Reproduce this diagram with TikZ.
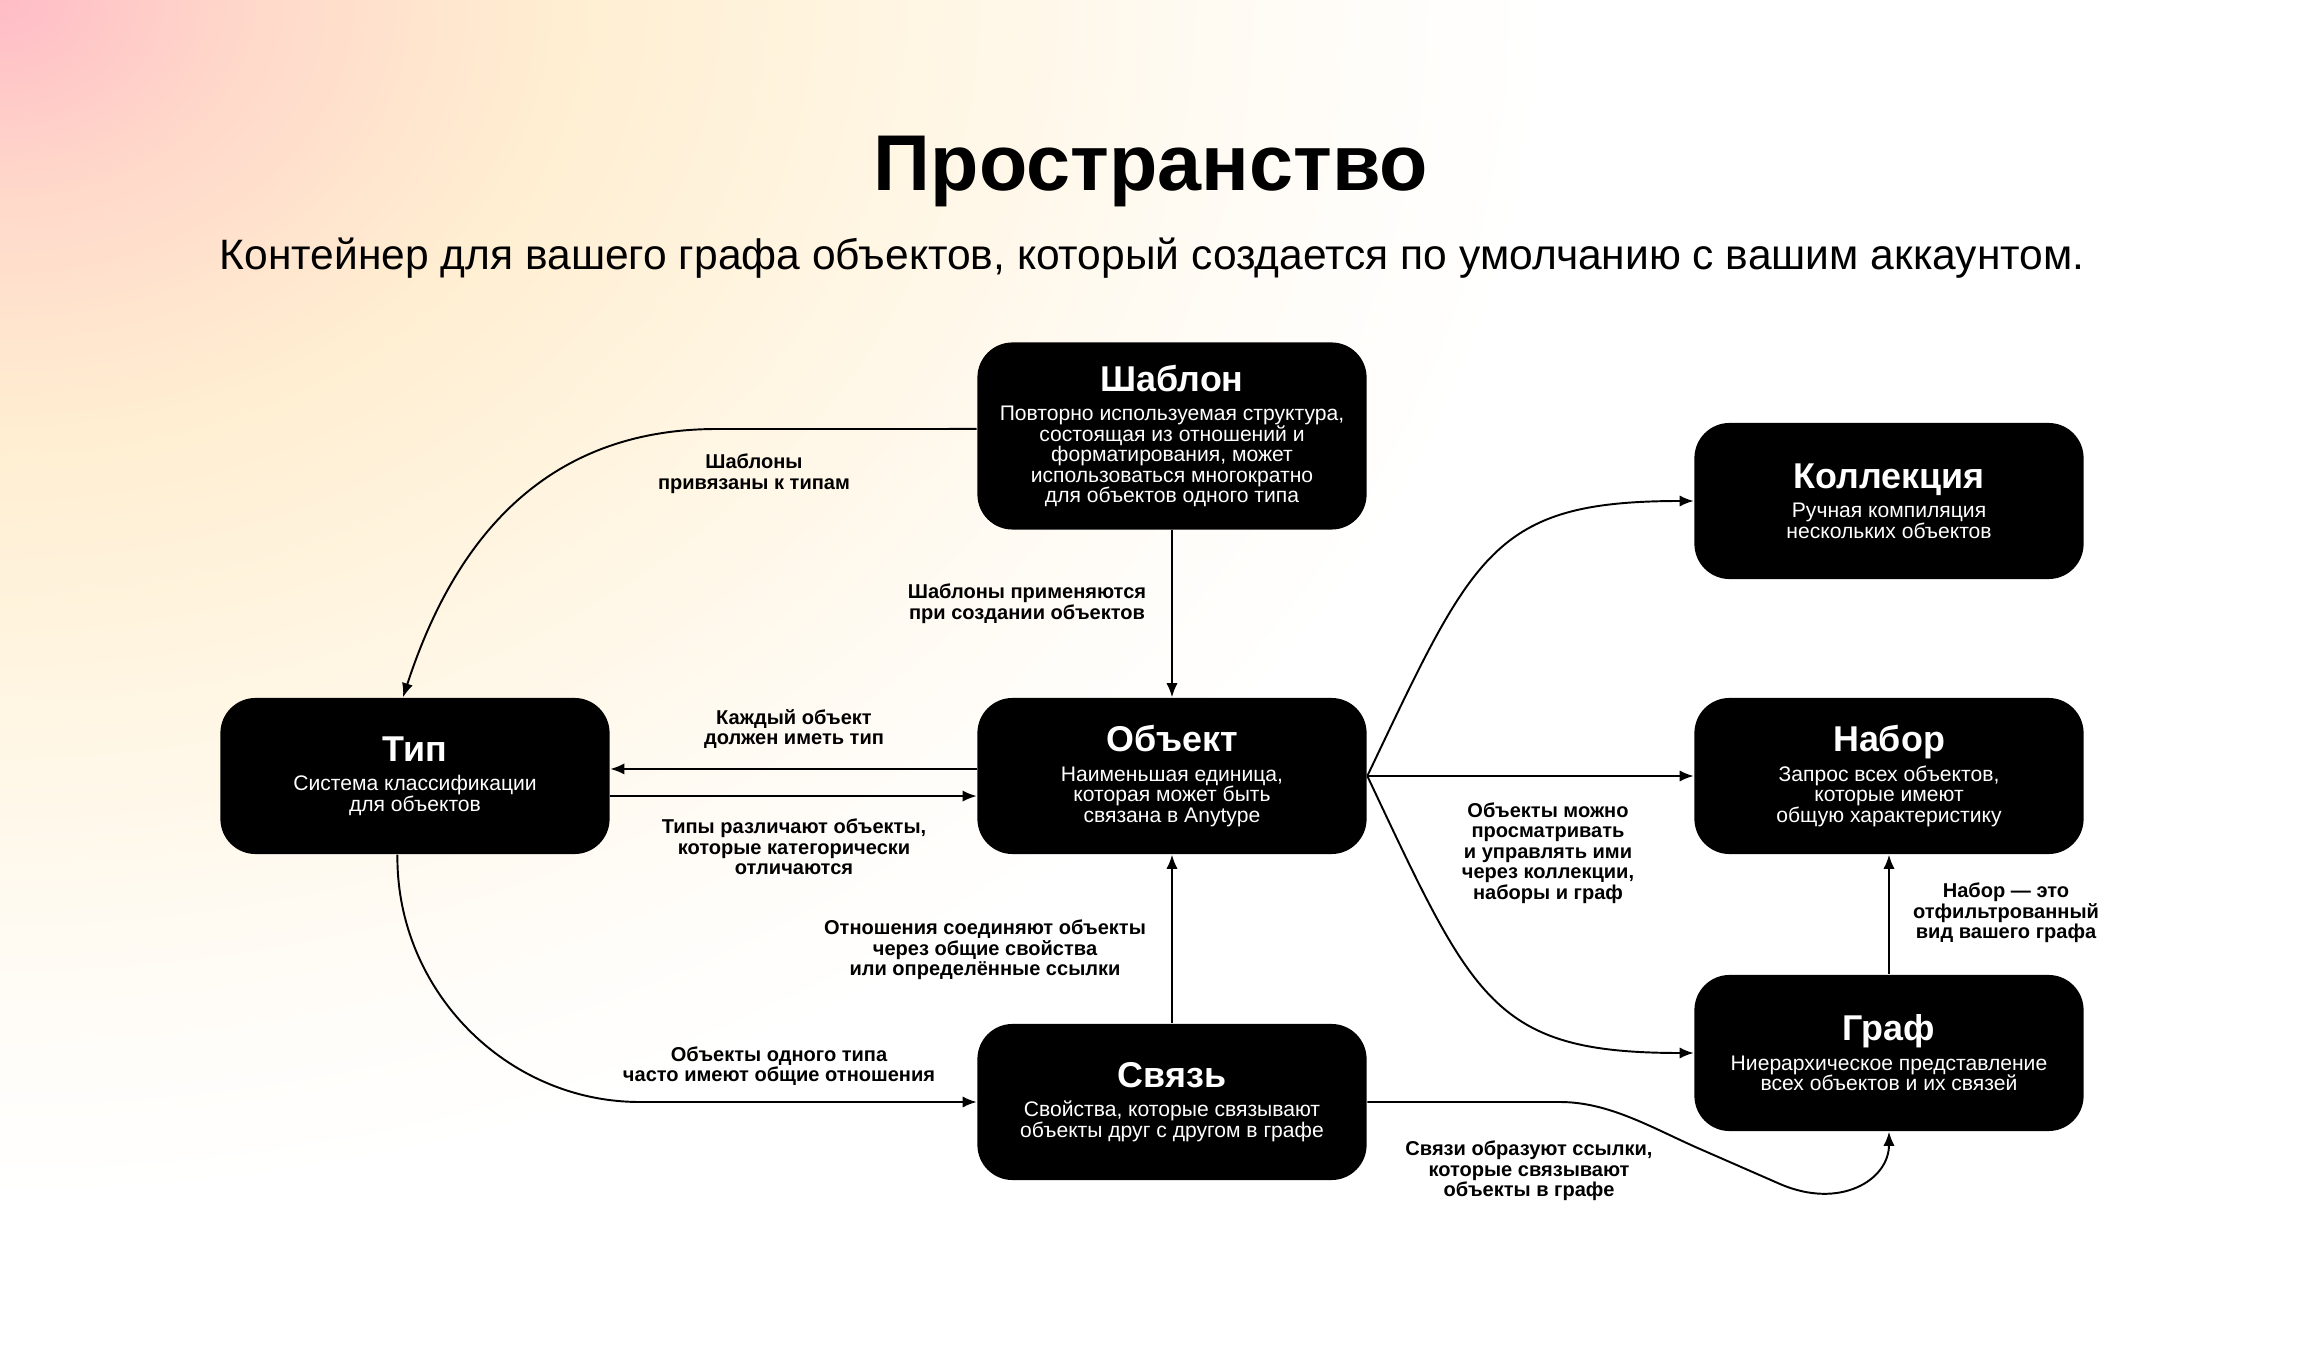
\documentclass[tikz,border=0pt]{standalone}
\usepackage{fontspec}
\setmainfont{Liberation Sans}
\usetikzlibrary{arrows.meta}
\definecolor{bgpink}{HTML}{FFBCC6}
\definecolor{bgpeach}{HTML}{FFD8CA}
\definecolor{bgcream}{HTML}{FFEED1}
\definecolor{bgivory}{HTML}{FFF6E4}
\definecolor{bgwhite}{HTML}{FFFCF7}
\pgfdeclareradialshading{bgglow}{\pgfpoint{0bp}{0bp}}{color(0bp)=(bgpink); color(4bp)=(bgpeach); color(9bp)=(bgcream); color(15bp)=(bgivory); color(21bp)=(bgwhite); color(25bp)=(white); color(50bp)=(white)}
\newcommand\descfont{\fontsize{6}{5.83}\selectfont\lineskiplimit=-20pt\relax}
\newcommand\notefont{\fontsize{5.7}{5.85}\selectfont\bfseries\lineskiplimit=-20pt\relax}
\newcommand\boxname[1]{{\fontsize{10.2}{12}\selectfont\bfseries #1}\\[2.5pt]}
\tikzset{
  box/.style={fill=black,text=white,rounded corners=10pt,align=center,
    minimum width=3.89cm,minimum height=1.56cm,inner sep=0pt,font=\descfont},
  note/.style={align=center,font=\notefont},
  flow/.style={-{Latex[length=4pt,width=3.2pt]},line width=0.55pt}
}

\begin{document}
\begin{tikzpicture}[x=0.01cm,y=-0.01cm]
  \useasboundingbox (0,0) rectangle (2305,1364);
  \begin{scope}
    \clip (0,0) rectangle (2305,1364);
    \fill[white] (0,0) rectangle (2305,1364);
    \shade[shading=bgglow] (0,0) ellipse[x radius=15.5cm,y radius=12cm];
  \end{scope}

  \node[anchor=base,font=\fontsize{22.5}{26}\selectfont\bfseries] (title) at (1151,191) {Пространство};
  \node[anchor=base,font=\fontsize{12.1}{14}\selectfont] (subtitle) at (1152,270)
    {Контейнер для вашего графа объектов, который создается по умолчанию с вашим аккаунтом.};

  \node[box,minimum height=1.87cm] (tmpl) at (1172,436)
    {\boxname{Шаблон}Повторно используемая структура,\\состоящая из отношений и\\форматирования, может\\использоваться многократно\\для объектов одного типа};
  \node[box] (tip) at (415,776)
    {\boxname{Тип}Система классификации\\для объектов};
  \node[box] (obj) at (1172,776)
    {\boxname{Объект}Наименьшая единица,\\которая может быть\\связана в Anytype};
  \node[box] (svyaz) at (1172,1102)
    {\boxname{Связь}Свойства, которые связывают\\объекты друг с другом в графе};
  \node[box] (coll) at (1889,501)
    {\boxname{Коллекция}Ручная компиляция\\нескольких объектов};
  \node[box] (nabor) at (1889,776)
    {\boxname{Набор}Запрос всех объектов,\\которые имеют\\общую характеристику};
  \node[box] (graf) at (1889,1053)
    {\boxname{Граф}Ниерархическое представление\\всех объектов и их связей};

  \node[note] (n1) at (754,474) {Шаблоны\\привязаны к типам};
  \node[note] (n2) at (1027,604) {Шаблоны применяются\\при создании объектов};
  \node[note] (n3) at (794,729) {Каждый объект\\должен иметь тип};
  \node[note] (n4) at (794,847) {Типы различают объекты,\\которые категорически\\отличаются};
  \node[note] (n5) at (985,950) {Отношения соединяют объекты\\через общие свойства\\или определённые ссылки};
  \node[note] (n6) at (779,1066) {Объекты одного типа\\часто имеют общие отношения};
  \node[note] (n7) at (1548,853) {Объекты можно\\просматривать\\и управлять ими\\через коллекции,\\наборы и граф};
  \node[note] (n8) at (2006,913) {Набор — это\\отфильтрованный\\вид вашего графа};
  \node[note] (n9) at (1529,1171) {Связи образуют ссылки,\\которые связывают\\объекты в графе};

  \draw[flow] ([yshift=2pt]tmpl.west) -- (717,429) .. controls (537,429) and (451,550) .. ([xshift=-3.4pt]tip.north);
  \draw[flow] (tmpl.south) -- (obj.north);
  \draw[flow] ([yshift=2pt]obj.west) -- ([yshift=2pt]tip.east);
  \draw[flow] ([yshift=-5.7pt]tip.east) -- ([yshift=-5.7pt]obj.west);
  \draw[flow] ([xshift=-5pt]tip.south) .. controls (396,990) and (506,1102) .. (640,1102) -- (svyaz.west);
  \draw[flow] (svyaz.north) -- (obj.south);
  \draw[flow] (obj.east) .. controls (1474,552) and (1493,501) .. (coll.west);
  \draw[flow] (obj.east) -- (nabor.west);
  \draw[flow] (obj.east) .. controls (1474,1002) and (1493,1053) .. (graf.west);
  \draw[flow] (svyaz.east) -- (1560,1102) .. controls (1610,1102) and (1654,1129) .. (1700,1149)
    -- (1780,1184) .. controls (1840,1210) and (1889,1180) .. (graf.south);
  \draw[flow] (graf.north) -- (nabor.south);
\end{tikzpicture}
\end{document}
